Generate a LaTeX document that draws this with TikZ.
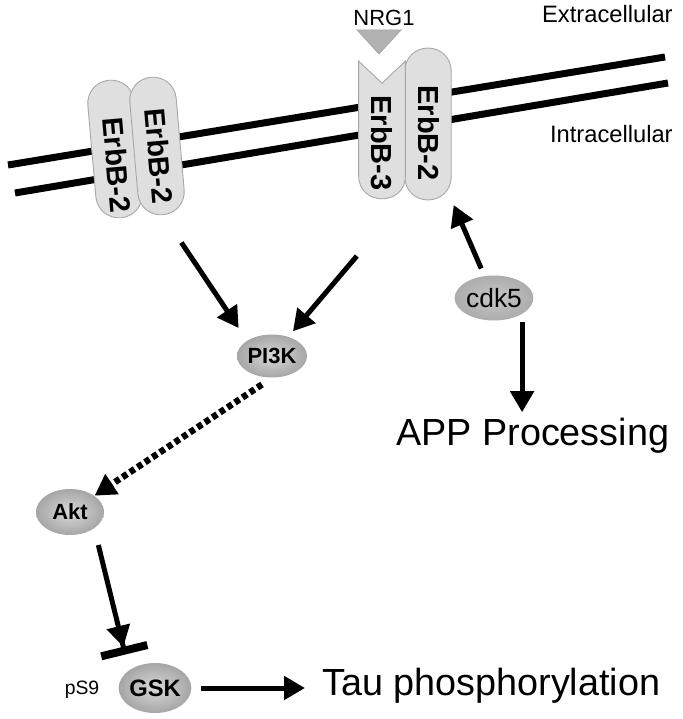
\documentclass[tikz,border=0pt]{standalone}
\usepackage{fontspec}
\setmainfont{Liberation Sans}
\usetikzlibrary{shapes.geometric, arrows.meta, calc}

\tikzstyle{membrane} = [line width=0.14cm]
\tikzstyle{receptor} = [draw=gray!70, fill=gray!25, line width=0.5pt]
\tikzstyle{pill} = [receptor, rectangle, rounded corners=0.46cm, minimum width=0.93cm, minimum height=2.76cm, inner sep=0pt]
\tikzstyle{pillframe} = [rectangle, minimum width=0.92cm, minimum height=2.74cm, inner sep=0pt]
\tikzstyle{pilltext} = [font=\fontsize{16.5}{16.5}\selectfont\bfseries, inner sep=0pt]
\tikzstyle{kinase} = [ellipse, minimum width=1.4cm, minimum height=0.86cm, inner sep=0pt, inner color=gray!30, outer color=gray!70, font=\fontsize{12.5}{14}\selectfont\bfseries]
\tikzstyle{outcome} = [font=\fontsize{21.5}{25}\selectfont, anchor=west]
\tikzstyle{side} = [font=\fontsize{13.5}{15}\selectfont, inner sep=0pt]
\tikzstyle{arrow} = [line width=0.1cm, -{Triangle[length=0.42cm, width=0.46cm]}]
\tikzstyle{dotarrow} = [arrow, line width=0.13cm, dash pattern=on 0.11cm off 0.07cm]
\tikzstyle{inhibit} = [line width=0.1cm, -{Triangle[length=0.42cm, width=0.46cm] Bar[width=0.95cm, line width=0.16cm]}]

\begin{document}
\begin{tikzpicture}[x=0.02cm, y=-0.02cm]
\useasboundingbox (0,0) rectangle (682,719);

% cell membrane
\draw[membrane] (8,165) -- (665,57);
\draw[membrane] (15,193) -- (668,83);
\node[side, anchor=east] (extra) at (673,14) {Extracellular};
\node[side, anchor=east] (intra) at (673,134) {Intracellular};

% ErbB-2 homodimer
\node[pill, rotate=5] (erbbA) at (115,149) {};
\node[pill, rotate=5] (erbbB) at (157,146) {};
\node[pilltext, rotate=-85] (erbbAtext) at (117,165) {ErbB-2};
\node[pilltext, rotate=-85] (erbbBtext) at (159,156) {ErbB-2};

% ErbB-3 / ErbB-2 heterodimer with NRG1
\node[pill, minimum height=3.04cm] (erbb2) at (428,124) {};
\node[pillframe] (erbb3) at (382,130) {};
\filldraw[receptor] (erbb3.north west) -- ([yshift=-0.44cm]erbb3.north) -- (erbb3.north east)
  -- ([yshift=0.46cm]erbb3.south east)
  .. controls ([yshift=-0.153cm]erbb3.south east) and ([yshift=-0.153cm]erbb3.south west) .. ([yshift=0.46cm]erbb3.south west)
  -- cycle;
\node[pilltext, rotate=-90] (erbb3text) at (382,143) {ErbB-3};
\node[pilltext, rotate=-90] (erbb2text) at (429,133) {ErbB-2};
\node[side, font=\fontsize{12.5}{14}\selectfont] (nrg) at (384,18) {NRG1};
\filldraw[fill=gray!60, draw=gray!70] (357,30) -- (401,30) -- (379,54) -- cycle;

% kinases
\node[kinase] (pik) at (272,356) {PI3K};
\node[kinase, minimum width=1.46cm, minimum height=0.9cm, inner color=gray!45, outer color=gray!65, font=\fontsize{15}{17}\selectfont] (cdk) at (494,298) {cdk5};
\node[kinase, minimum width=1.36cm, minimum height=0.92cm] (akt) at (70,512) {Akt};
\node[kinase, minimum width=1.44cm, minimum height=1cm, font=\fontsize{13.5}{15}\selectfont\bfseries] (gsk) at (155,688) {GSK};
\node[side, font=\fontsize{11}{13}\selectfont] (psnine) at (82,690) {pS9};

% outcomes
\node[outcome] (app) at (390,436) {APP Processing};
\node[outcome] (tau) at (316,686) {Tau phosphorylation};

% connections
\draw[arrow, shorten <=0.66cm, shorten >=0.3cm] (erbbB.south) -- (pik.north west);
\draw[arrow, shorten <=1.5cm, shorten >=0.14cm] (erbb3.south east) -- (pik);
\draw[arrow, shorten <=0.16cm, shorten >=0.1cm] (cdk) -- (erbb2.south east);
\draw[arrow, shorten <=0.16cm] (cdk.south east) -- (cdk.south east |- app.north);
\draw[dotarrow, shorten <=0.24cm] (pik.south) -- (akt);
\draw[inhibit, shorten <=0.34cm, shorten >=0.32cm] (akt.south east) -- (gsk.north west);
\draw[arrow, shorten <=0.18cm, shorten >=0.22cm] (gsk.east) -- (gsk.east -| tau.west);

\end{tikzpicture}
\end{document}
